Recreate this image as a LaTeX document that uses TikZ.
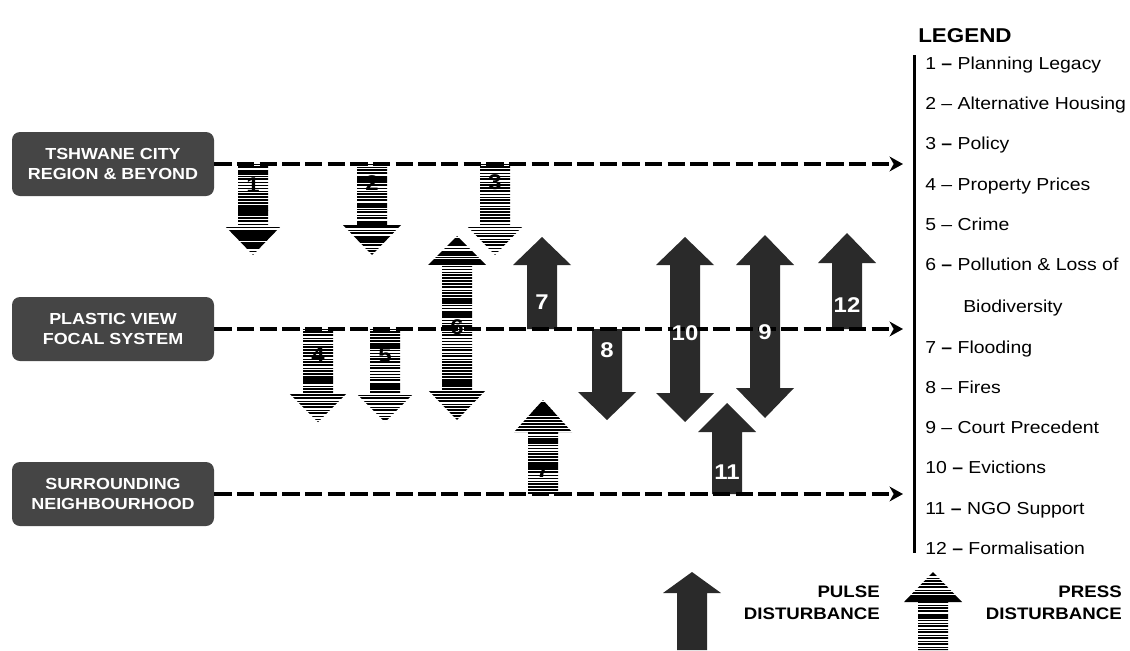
\documentclass[tikz,border=0pt]{standalone}
\usepackage{fontspec}
\setmainfont{Liberation Sans}[FakeStretch=1.12]
\usetikzlibrary{arrows.meta}
\definecolor{boxgray}{HTML}{454545}
\definecolor{pulsegray}{HTML}{2A2A2A}
\tikzset{
 region/.style={fill=boxgray, rounded corners=6pt, minimum width=151.5pt, minimum height=48pt,
   text=white, font=\fontsize{12}{14.5}\selectfont\bfseries, align=center, inner sep=0pt},
 dashline/.style={line width=3pt, dash pattern=on 13pt off 4pt,
   -{Stealth[length=10pt,width=11pt,inset=3pt]}},
 legitem/.style={anchor=base west, inner sep=0pt, font=\fontsize{13}{15}\selectfont},
 legtitle/.style={anchor=base west, inner sep=0pt, font=\fontsize{15}{18}\selectfont\bfseries},
 keytext/.style={anchor=east, align=right, inner sep=0pt, font=\fontsize{12.5}{16.5}\selectfont\bfseries},
 numw/.style={text=white, font=\fontsize{16}{18}\selectfont\bfseries, inner sep=0pt},
 numb/.style={numw, text=black},
 pulse/.style={fill=pulsegray},
}
% striped fill (press disturbance)
\newcommand{\stripesfill}[3]{%
  \pgfmathtruncatemacro{\nst}{((#3)-(#2))/3}%
  \foreach \k in {0,...,\nst}{%
    \pgfmathsetmacro{\yy}{(#2)+3*\k}%
    \pgfmathsetmacro{\lw}{rnd<0.12 ? 3.2 : 0.5+1.3*rnd}%
    \draw[line width=\lw*0.75pt] (#1-31,\yy) -- (#1+31,\yy);
  }}
% single arrows: cx, tip, head base, shaft end
\newcommand{\pulseS}[4]{\fill[pulse] (#1-15,#4) -- (#1-15,#3) -- (#1-29,#3) -- (#1,#2) -- (#1+29,#3) -- (#1+15,#3) -- (#1+15,#4) -- cycle;}
\newcommand{\pressS}[4]{\begin{scope}
  \clip (#1-15,#4) -- (#1-15,#3) -- (#1-29,#3) -- (#1,#2) -- (#1+29,#3) -- (#1+15,#3) -- (#1+15,#4) -- cycle;
  \stripesfill{#1}{min(#2,#4)}{max(#2,#4)}
  \end{scope}}
% double arrows: cx, tip1, base1, base2, tip2
\newcommand{\pulseD}[5]{\fill[pulse] (#1-15,#3) -- (#1-29,#3) -- (#1,#2) -- (#1+29,#3) -- (#1+15,#3) -- (#1+15,#4) -- (#1+29,#4) -- (#1,#5) -- (#1-29,#4) -- (#1-15,#4) -- cycle;}
\newcommand{\pressD}[5]{\begin{scope}
  \clip (#1-15,#3) -- (#1-29,#3) -- (#1,#2) -- (#1+29,#3) -- (#1+15,#3) -- (#1+15,#4) -- (#1+29,#4) -- (#1,#5) -- (#1-29,#4) -- (#1-15,#4) -- cycle;
  \stripesfill{#1}{#2}{#5}
  \end{scope}}
\begin{document}
\begin{tikzpicture}[x=0.75pt,y=-0.75pt]
\useasboundingbox (0,0) rectangle (1130,650);
\pgfmathsetseed{17}
% regions
\node[region] (box1) at (113,164) {TSHWANE CITY\\REGION \& BEYOND};
\node[region] (box2) at (113,329) {PLASTIC VIEW\\FOCAL SYSTEM};
\node[region] (box3) at (113,494) {SURROUNDING\\NEIGHBOURHOOD};
\coordinate (e1) at (903,164);
\coordinate (e2) at (903,329);
\coordinate (e3) at (903,494);
% press disturbances
\pressS{253}{255}{225}{164}
\pressS{372}{255}{225}{164}
\pressS{495}{255}{225}{164}
\pressS{318}{422}{393}{329}
\pressS{385}{422}{393}{329}
\pressD{457}{236}{265}{390}{420}
\pressS{543}{400}{432}{494}
% pulse disturbances
\pulseS{542}{237}{265}{329}
\pulseS{607}{420}{392}{329}
\pulseD{685}{237}{265}{393}{422}
\pulseD{765}{235}{265}{388}{418}
\pulseS{847}{233}{263}{329}
\pulseS{727}{403}{432}{494}
% timelines
\draw[dashline] (box1.east) -- (e1);
\draw[dashline] (box2.east) -- (e2);
\draw[dashline] (box3.east) -- (e3);
% numbers
\node[numb] (n1) at (253,185) {1};
\node[numb] (n2) at (372,183) {2};
\node[numb] (n3) at (495,182) {3};
\node[numb] (n4) at (318,355) {4};
\node[numb] (n5) at (385,355) {5};
\node[numb] (n6) at (457,327) {6};
\node[numw] (n7a) at (542,302) {7};
\node[numw] (n8) at (607,350) {8};
\node[numw] (n10) at (685,333) {10};
\node[numw] (n9) at (765,332) {9};
\node[numw] (n12) at (847,305) {12};
\node[numb] (n7b) at (543,470) {7};
\node[numw] (n11) at (727,472) {11};
% legend
\node[legtitle] (legend) at (918,42) {LEGEND};
\coordinate (lt) at (914,55);
\coordinate (lb) at (914,553);
\draw[line width=2.25pt] (lt) -- (lb);
\node[legitem] (l1) at (925,69) {1 \textbf{–} Planning Legacy};
\node[legitem] (l2) at (925,109) {2 – Alternative Housing};
\node[legitem] (l3) at (925,149) {3 \textbf{–} Policy};
\node[legitem] (l4) at (925,190) {4 – Property Prices};
\node[legitem] (l5) at (925,230) {5 – Crime};
\node[legitem] (l6) at (925,270) {6 \textbf{–} Pollution \& Loss of};
\node[legitem] (l6b) at (963,312) {Biodiversity};
\node[legitem] (l7) at (925,353) {7 \textbf{–} Flooding};
\node[legitem] (l8) at (925,393) {8 – Fires};
\node[legitem] (l9) at (925,433) {9 – Court Precedent};
\node[legitem] (l10) at (925,473) {10 \textbf{–} Evictions};
\node[legitem] (l11) at (925,514) {11 \textbf{–} NGO Support};
\node[legitem] (l12) at (925,554) {12 \textbf{–} Formalisation};
% key
\pulseS{692}{572}{593}{650}
\pressS{933}{572}{602}{650}
\node[keytext] (kpulse) at (880,603) {PULSE\\DISTURBANCE};
\node[keytext] (kpress) at (1122,603) {PRESS\\DISTURBANCE};
\end{tikzpicture}
\end{document}
